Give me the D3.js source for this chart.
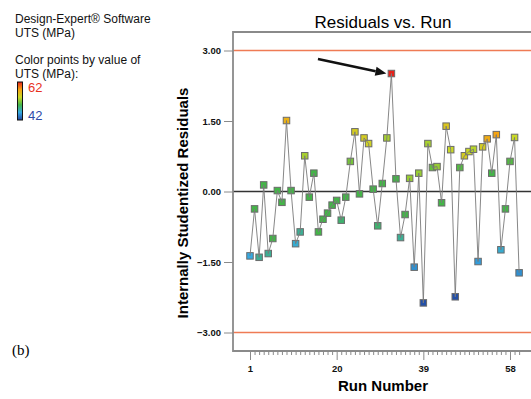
<!DOCTYPE html>
<html>
<head>
<meta charset="utf-8">
<script src="https://cdn.jsdelivr.net/npm/d3@7"></script>
<style>
  html, body { margin: 0; padding: 0; background: #fff; }
  svg { display: block; font-family: "Liberation Sans", Arial, sans-serif; }
</style>
</head>
<body>
<div id="chart"></div>
<script>
// run order 1..60, internally studentized residuals
const runs = d3.range(1, 61);
const residuals = [
  -1.37, -0.37, -1.40, 0.14, -1.32, -1.00, 0.02, -0.23, 1.51, 0.02,
  -1.11, -0.86, 0.76, -0.12, 0.39, -0.86, -0.59, -0.46, -0.29, -0.19,
  -0.61, -0.12, 0.64, 1.27, -0.05, 1.14, 1.02, 0.05, -0.73, 0.17,
  1.14, 2.51, 0.27, -0.98, -0.49, 0.28, -1.61, 0.39, -2.37, 1.02,
  0.51, 0.53, -0.24, 1.39, 0.89, -2.24, 0.51, 0.76, 0.85, 0.90,
  -1.49, 0.95, 1.12, 0.39, 1.21, -1.24, -0.37, 0.64, 1.15, -1.73
];
// UTS (MPa) estimated from each point's colour
const uts = [
  46, 50, 48, 50, 48, 50, 50, 50, 57, 50,
  46.5, 48, 53, 50, 50, 50, 50, 50, 50, 50,
  49, 50, 51.5, 55, 50, 55, 54.5, 50, 49, 50,
  53, 62, 50, 48, 50, 52.5, 45, 52.5, 42.5, 53,
  51, 52.5, 50, 55.5, 54, 42.5, 50.5, 55, 54, 53.5,
  45.5, 55, 57.5, 50, 58, 46.5, 50, 50.5, 54, 45
];
const yTicks = [3, 1.5, 0, -1.5, -3];
const xTicks = [1, 20, 39, 58];
const limits = [3, -3];
const utsRange = [42, 62];
const colorStops = ['#22439f', '#35a9e2', '#44b548', '#c9d926', '#f6a411', '#e6221b'];
// annotation arrow in data units: [run, residual] start, pointing at run 32
const arrowFrom = [15.9, 2.82];
const arrowRun = 32;

const W = 531, H = 399;
const svg = d3.select('#chart').append('svg').attr('width', W).attr('height', H);

const frame = {left: 233, top: 32, bottom: 351, right: 533};
const x = d3.scaleLinear().domain([1, 58]).range([250, 510]);
const y = d3.scaleLinear().domain([0, 3]).range([191.5, 50.5]);

const colorDomain = d3.range(colorStops.length).map(i => utsRange[0] + i * (utsRange[1] - utsRange[0]) / (colorStops.length - 1));
const color = d3.scaleLinear().domain(colorDomain).range(colorStops).clamp(true);

// left-hand notes
const notes = svg.append('g').attr('font-size', 12).attr('fill', '#111');
notes.append('text').attr('x', 15).attr('y', 23).text('Design-Expert® Software');
notes.append('text').attr('x', 15).attr('y', 37).text('UTS (MPa)');
notes.append('text').attr('x', 15).attr('y', 64).text('Color points by value of');
notes.append('text').attr('x', 15).attr('y', 78).text('UTS (MPa):');

const grad = svg.append('defs').append('linearGradient')
  .attr('id', 'utsGrad').attr('x1', 0).attr('x2', 0).attr('y1', 1).attr('y2', 0);
colorStops.forEach((c, i) => {
  grad.append('stop').attr('offset', i / (colorStops.length - 1)).attr('stop-color', c);
});
const lg = d3.scaleLinear().domain(utsRange).range([120, 82]);
svg.append('rect').attr('x', 17.5).attr('y', lg(utsRange[1])).attr('width', 5)
  .attr('height', lg(utsRange[0]) - lg(utsRange[1]))
  .attr('fill', 'url(#utsGrad)').attr('stroke', '#111').attr('stroke-width', 1);
svg.append('text').attr('x', 28).attr('y', lg(utsRange[1]) + 10).attr('font-size', 13)
  .attr('fill', '#e8321e').text(utsRange[1]);
svg.append('text').attr('x', 28).attr('y', lg(utsRange[0])).attr('font-size', 13)
  .attr('fill', '#2f4aa8').text(utsRange[0]);

svg.append('text').attr('x', 12).attr('y', 355)
  .attr('font-family', '"Liberation Serif", "Times New Roman", serif')
  .attr('font-size', 15).text('(b)');

// title
svg.append('text').attr('x', 383).attr('y', 28).attr('text-anchor', 'middle')
  .attr('font-size', 17).text('Residuals vs. Run');

// limit lines
svg.selectAll('line.limit').data(limits).enter().append('line')
  .attr('class', 'limit')
  .attr('x1', frame.left).attr('x2', frame.right)
  .attr('y1', d => y(d)).attr('y2', d => y(d))
  .attr('stroke', '#ef7b55').attr('stroke-width', 1.6);

// zero line
svg.append('line').attr('x1', frame.left).attr('x2', frame.right)
  .attr('y1', y(0)).attr('y2', y(0)).attr('stroke', '#333').attr('stroke-width', 1.5);

// frame
svg.append('path')
  .attr('d', `M${frame.right},${frame.top}H${frame.left}V${frame.bottom}H${frame.right}`)
  .attr('fill', 'none').attr('stroke', '#8a8a8a').attr('stroke-width', 1.8);

// y axis
const yAxis = svg.append('g').attr('transform', `translate(${frame.left},0)`)
  .call(d3.axisLeft(y).tickValues(yTicks).tickFormat(d3.format('.2f')).tickSize(9).tickPadding(3));
yAxis.select('.domain').remove();
yAxis.selectAll('line').attr('stroke', '#8a8a8a');
yAxis.selectAll('text').attr('font-size', 9.5).attr('font-weight', 'bold').attr('fill', '#111')
  .attr('font-family', '"Liberation Sans", Arial, sans-serif');

// x axis: minor ticks every run, major at labels
const xMinor = svg.append('g').attr('transform', `translate(0,${frame.bottom})`)
  .call(d3.axisBottom(x).tickValues(runs.filter(r => !xTicks.includes(r))).tickSize(4).tickFormat(''));
xMinor.select('.domain').remove();
xMinor.selectAll('line').attr('stroke', '#8a8a8a');
const xAxis = svg.append('g').attr('transform', `translate(0,${frame.bottom})`)
  .call(d3.axisBottom(x).tickValues(xTicks).tickSize(9).tickPadding(5));
xAxis.select('.domain').remove();
xAxis.selectAll('line').attr('stroke', '#8a8a8a');
xAxis.selectAll('text').attr('font-size', 9.5).attr('font-weight', 'bold').attr('fill', '#111')
  .attr('font-family', '"Liberation Sans", Arial, sans-serif');

// axis titles
svg.append('text').attr('x', 383).attr('y', 391).attr('text-anchor', 'middle')
  .attr('font-size', 15).attr('font-weight', 'bold').text('Run Number');
svg.append('text').attr('transform', 'translate(188,203) rotate(-90)').attr('text-anchor', 'middle')
  .attr('font-size', 15).attr('font-weight', 'bold').text('Internally Studentized Residuals');

// points
const pts = runs.map((r, i) => ({run: r, res: residuals[i], uts: uts[i]}));
const sq = 6.5;
svg.append('g').selectAll('rect').data(pts).enter().append('rect')
  .attr('x', d => x(d.run) - sq / 2).attr('y', d => y(d.res) - sq / 2)
  .attr('width', sq).attr('height', sq)
  .attr('fill', d => color(d.uts))
  .attr('stroke', '#6b6b6b').attr('stroke-width', 1);

const line = d3.line().x(d => x(d.run)).y(d => y(d.res));
svg.append('path').datum(pts).attr('d', line)
  .attr('fill', 'none').attr('stroke', '#7a7a7a').attr('stroke-width', 1).attr('stroke-opacity', 0.9);

// annotation arrow
const target = pts[arrowRun - 1];
const x0 = x(arrowFrom[0]), y0 = y(arrowFrom[1]);
const x1 = x(target.run) - 5, y1 = y(target.res);
const ang = Math.atan2(y1 - y0, x1 - x0);
const headLen = 11, headW = 4.5;
const bx = x1 - headLen * Math.cos(ang), by = y1 - headLen * Math.sin(ang);
svg.append('line').attr('x1', x0).attr('y1', y0).attr('x2', bx).attr('y2', by)
  .attr('stroke', '#111').attr('stroke-width', 2.5);
svg.append('path')
  .attr('d', `M${x1},${y1}L${bx - headW * Math.sin(ang)},${by + headW * Math.cos(ang)}L${bx + headW * Math.sin(ang)},${by - headW * Math.cos(ang)}Z`)
  .attr('fill', '#111');
</script>
</body>
</html>
